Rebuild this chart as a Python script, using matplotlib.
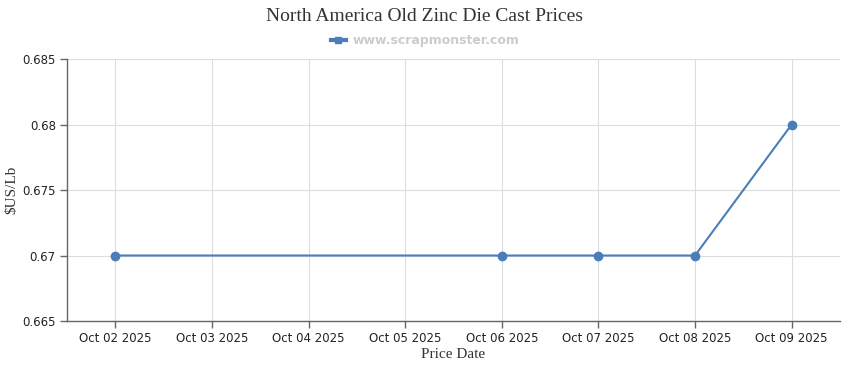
import matplotlib
matplotlib.use("Agg")
import matplotlib.pyplot as plt
from matplotlib.lines import Line2D

categories = ["Oct 02 2025", "Oct 03 2025", "Oct 04 2025", "Oct 05 2025",
              "Oct 06 2025", "Oct 07 2025", "Oct 08 2025", "Oct 09 2025"]
point_dates = ["Oct 02 2025", "Oct 06 2025", "Oct 07 2025", "Oct 08 2025", "Oct 09 2025"]
prices = [0.67, 0.67, 0.67, 0.67, 0.68]
y_ticks = [0.665, 0.67, 0.675, 0.68, 0.685]
y_tick_labels = ["0.665", "0.67", "0.675", "0.68", "0.685"]

color = "#4A7EBB"
fig = plt.figure(figsize=(8.5, 3.7), dpi=100)
ax = fig.add_axes([0.0788, 0.1324, 0.9094, 0.7081])

xs = [categories.index(d) for d in point_dates]
ax.plot(xs, prices, color=color, lw=1.5, marker="o", ms=6, zorder=3)

ax.set_xlim(-0.5, len(categories) - 0.5)
ax.set_ylim(0.665, 0.685)
ax.set_xticks(range(len(categories)))
ax.set_xticklabels(categories, fontsize=8.5, family="DejaVu Sans", color="#222222")
ax.set_yticks(y_ticks)
ax.set_yticklabels(y_tick_labels, fontsize=8.5, family="DejaVu Sans", color="#222222")
ax.grid(True, color="#DDDDDD", lw=0.8)
ax.set_axisbelow(True)
for s in ["top", "right"]:
    ax.spines[s].set_visible(False)
for s in ["left", "bottom"]:
    ax.spines[s].set_color("#666666")
    ax.spines[s].set_linewidth(1)
ax.tick_params(axis="both", length=5, color="#666666", width=1, pad=3)

ax.set_xlabel("Price Date", family="Liberation Serif", fontsize=11, color="#333333", labelpad=2)
ax.set_ylabel("$US/Lb", family="Liberation Serif", fontsize=11, color="#333333", labelpad=3)

fig.text(0.5, 0.955, "North America Old Zinc Die Cast Prices", ha="center", va="center",
         family="Liberation Serif", fontsize=14, color="#333333")
handle = Line2D([], [], color=color, lw=3, marker="s", ms=5)
fig.legend([handle], ["www.scrapmonster.com"], loc="center", bbox_to_anchor=(0.5, 0.89),
           frameon=False, prop={"family": "DejaVu Sans", "weight": "bold", "size": 9},
           labelcolor="#CCCCCC", handlelength=1.2, handletextpad=0.5)

fig.savefig("out.png", dpi=100)
